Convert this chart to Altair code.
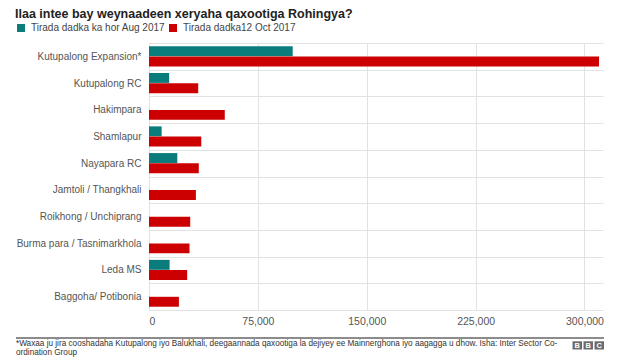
import altair as alt
import pandas as pd

# ---- data ----
categories = [
    "Kutupalong Expansion*", "Kutupalong RC", "Hakimpara", "Shamlapur",
    "Nayapara RC", "Jamtoli / Thangkhali", "Roikhong / Unchiprang",
    "Burma para / Tasnimarkhola", "Leda MS", "Baggoha/ Potibonia",
]
series_names = ["Tirada dadka ka hor Aug 2017", "Tirada dadka12 Oct 2017"]
before_aug = [99000, 13900, 0, 8700, 19500, 0, 0, 0, 14200, 0]
oct_12 = [310000, 33900, 52200, 36000, 34300, 32300, 28400, 27900, 26300, 20600]
x_ticks = [0, 75000, 150000, 225000, 300000]
colors = ["#0b7c7c", "#cc0000"]

title_text = "Ilaa intee bay weynaadeen xeryaha qaxootiga Rohingya?"
footer_lines = [
    "*Waxaa ju jira cooshadaha Kutupalong iyo Balukhali, deegaannada qaxootiga la dejiyey ee Mainnerghona iyo aagagga u dhow. Isha: Inter Sector Co-",
    "ordination Group",
]
logo_letters = ["B", "B", "C"]

FONT = "Arial, Liberation Sans, Helvetica, sans-serif"

rows = []
for c, b, o in zip(categories, before_aug, oct_12):
    rows.append({"camp": c, "series": series_names[0], "value": b})
    rows.append({"camp": c, "series": series_names[1], "value": o})
df = pd.DataFrame(rows)

W, H = 454, 267

bars = alt.Chart(df).mark_bar().encode(
    x=alt.X("value:Q",
            scale=alt.Scale(domain=[0, 312750], nice=False, zero=True),
            axis=alt.Axis(values=x_ticks, format=",.0f", title=None, grid=True,
                          gridColor="#e2e2e2", domain=False, ticks=False,
                          labelFontSize=10.5, labelColor="#555", labelFont=FONT,
                          labelPadding=6)),
    y=alt.Y("camp:N", sort=categories,
            scale=alt.Scale(paddingInner=0, paddingOuter=0),
            axis=alt.Axis(title=None, grid=True, tickBand="extent",
                          gridColor="#e2e2e2", domain=False, ticks=False,
                          labelFontSize=10, labelColor="#555", labelFont=FONT,
                          labelPadding=8, labelLimit=200)),
    yOffset=alt.YOffset("series:N", sort=series_names,
                        scale=alt.Scale(paddingInner=0.03, paddingOuter=0.32)),
    color=alt.Color("series:N",
                    scale=alt.Scale(domain=series_names, range=colors),
                    legend=alt.Legend(title=None, orient="none", direction="horizontal",
                                      legendX=-133, legendY=-20,
                                      symbolType="square", symbolSize=64,
                                      symbolStrokeWidth=0, labelFontSize=10,
                                      labelColor="#444", labelFont=FONT,
                                      labelOffset=5, columnPadding=2)),
)

one = pd.DataFrame({"k": [0]})
layers = [bars]

# title
layers.append(alt.Chart(one).mark_text(
    text=title_text, align="left", baseline="middle", fontSize=12.5,
    fontWeight="bold", font=FONT, color="#222").encode(
    x=alt.value(-134), y=alt.value(-28.7)))

# footer separator line
layers.append(alt.Chart(one).mark_rule(color="#8c8c8c", strokeWidth=2).encode(
    x=alt.value(-133), x2=alt.value(455), y=alt.value(295)))

# footer text
for i, line in enumerate(footer_lines):
    layers.append(alt.Chart(one).mark_text(
        text=line, align="left", baseline="middle", fontSize=8.2, font=FONT,
        color="#333").encode(x=alt.value(-133), y=alt.value(301 + i * 8.6)))

# BBC logo
for i, letter in enumerate(logo_letters):
    x0 = 423.5 + i * 11
    layers.append(alt.Chart(one).mark_rect(color="#6b6b6b").encode(
        x=alt.value(x0), x2=alt.value(x0 + 9.5),
        y=alt.value(298.3), y2=alt.value(306.5)))
    layers.append(alt.Chart(one).mark_text(
        text=letter, align="center", baseline="middle", fontSize=7.5,
        fontWeight="bold", font=FONT, color="white").encode(
        x=alt.value(x0 + 4.75), y=alt.value(302.6)))

chart = alt.layer(*layers).properties(
    width=W, height=H,
    autosize=alt.AutoSizeParams(type="none"),
    padding={"left": 141, "top": 35, "right": 29, "bottom": 49},
).configure_view(stroke=None)

chart.save("out.html", embed_options={"renderer": "svg", "actions": False})
